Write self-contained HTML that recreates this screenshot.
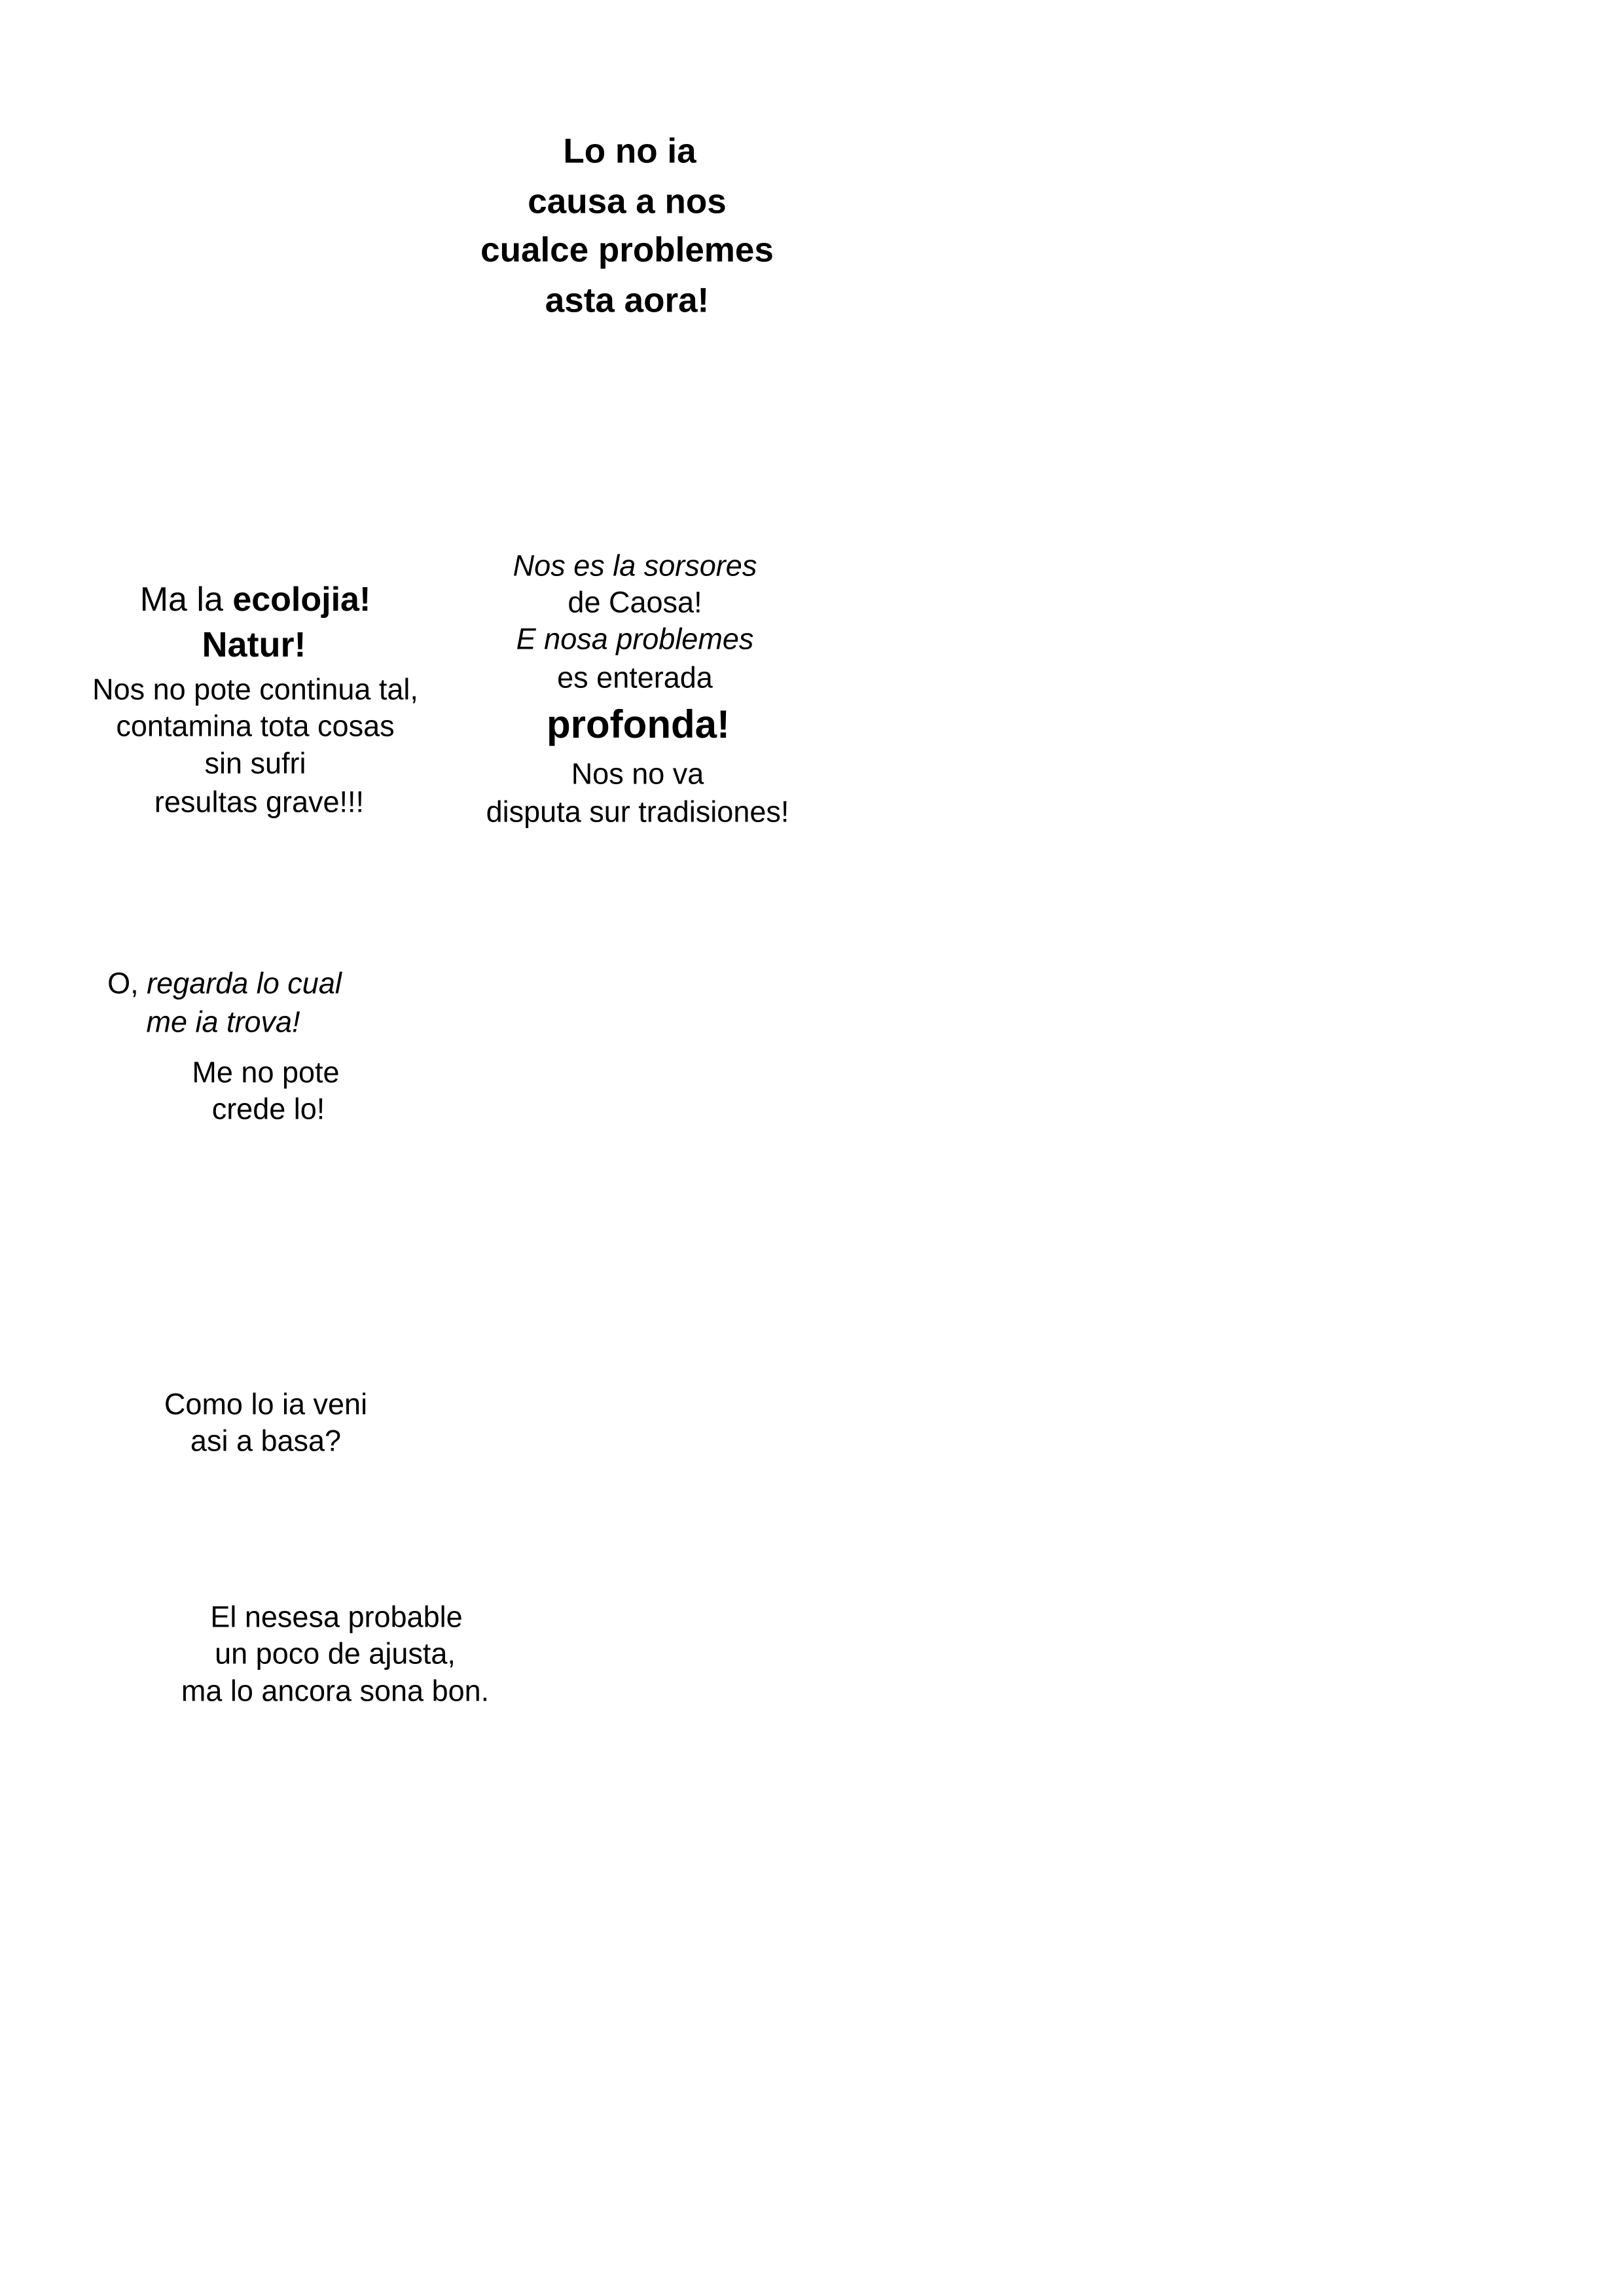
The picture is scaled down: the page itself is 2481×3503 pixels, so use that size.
<!DOCTYPE html>
<html><head><meta charset="utf-8"><style>
html,body{margin:0;padding:0;background:#fff;}
body{width:2481px;height:3503px;position:relative;overflow:hidden;font-family:"Liberation Sans",sans-serif;color:#000;}
.t{position:absolute;white-space:nowrap;transform:translate(-50%,-50%);line-height:1;}
.h{font-weight:bold;font-size:53px;}
.n{font-size:45px;}
.i{font-style:italic;}
</style></head><body>
<div class="t h" style="left:962px;top:231px">Lo no ia</div>
<div class="t h" style="left:958px;top:308px">causa a nos</div>
<div class="t h" style="left:958px;top:382px">cualce problemes</div>
<div class="t h" style="left:958px;top:459px">asta aora!</div>

<div class="t n" style="left:390px;top:916px;font-size:52px">Ma la <b>ecolojia!</b></div>
<div class="t" style="left:388px;top:985px;font-size:54px;font-weight:bold">Natur!</div>
<div class="t n" style="left:390px;top:1053px">Nos no pote continua tal,</div>
<div class="t n" style="left:390px;top:1109px">contamina tota cosas</div>
<div class="t n" style="left:390px;top:1166px">sin sufri</div>
<div class="t n" style="left:396px;top:1225px">resultas grave!!!</div>

<div class="t n i" style="left:970px;top:864px">Nos es la sorsores</div>
<div class="t n" style="left:970px;top:920px">de Caosa!</div>
<div class="t n i" style="left:970px;top:976px">E nosa problemes</div>
<div class="t n" style="left:970px;top:1035px">es enterada</div>
<div class="t" style="left:975px;top:1107px;font-size:60px;font-weight:bold">profonda!</div>
<div class="t n" style="left:974px;top:1182px">Nos no va</div>
<div class="t n" style="left:974px;top:1240px">disputa sur tradisiones!</div>

<div class="t n" style="left:343px;top:1502px">O, <i>regarda lo cual</i></div>
<div class="t n i" style="left:341px;top:1561px">me ia trova!</div>
<div class="t n" style="left:406px;top:1638px">Me no pote</div>
<div class="t n" style="left:410px;top:1694px">crede lo!</div>

<div class="t n" style="left:406px;top:2145px">Como lo ia veni</div>
<div class="t n" style="left:406px;top:2201px">asi a basa?</div>

<div class="t n" style="left:514px;top:2470px">El nesesa probable</div>
<div class="t n" style="left:512px;top:2526px">un poco de ajusta,</div>
<div class="t n" style="left:512px;top:2583px">ma lo ancora sona bon.</div>
</body></html>
